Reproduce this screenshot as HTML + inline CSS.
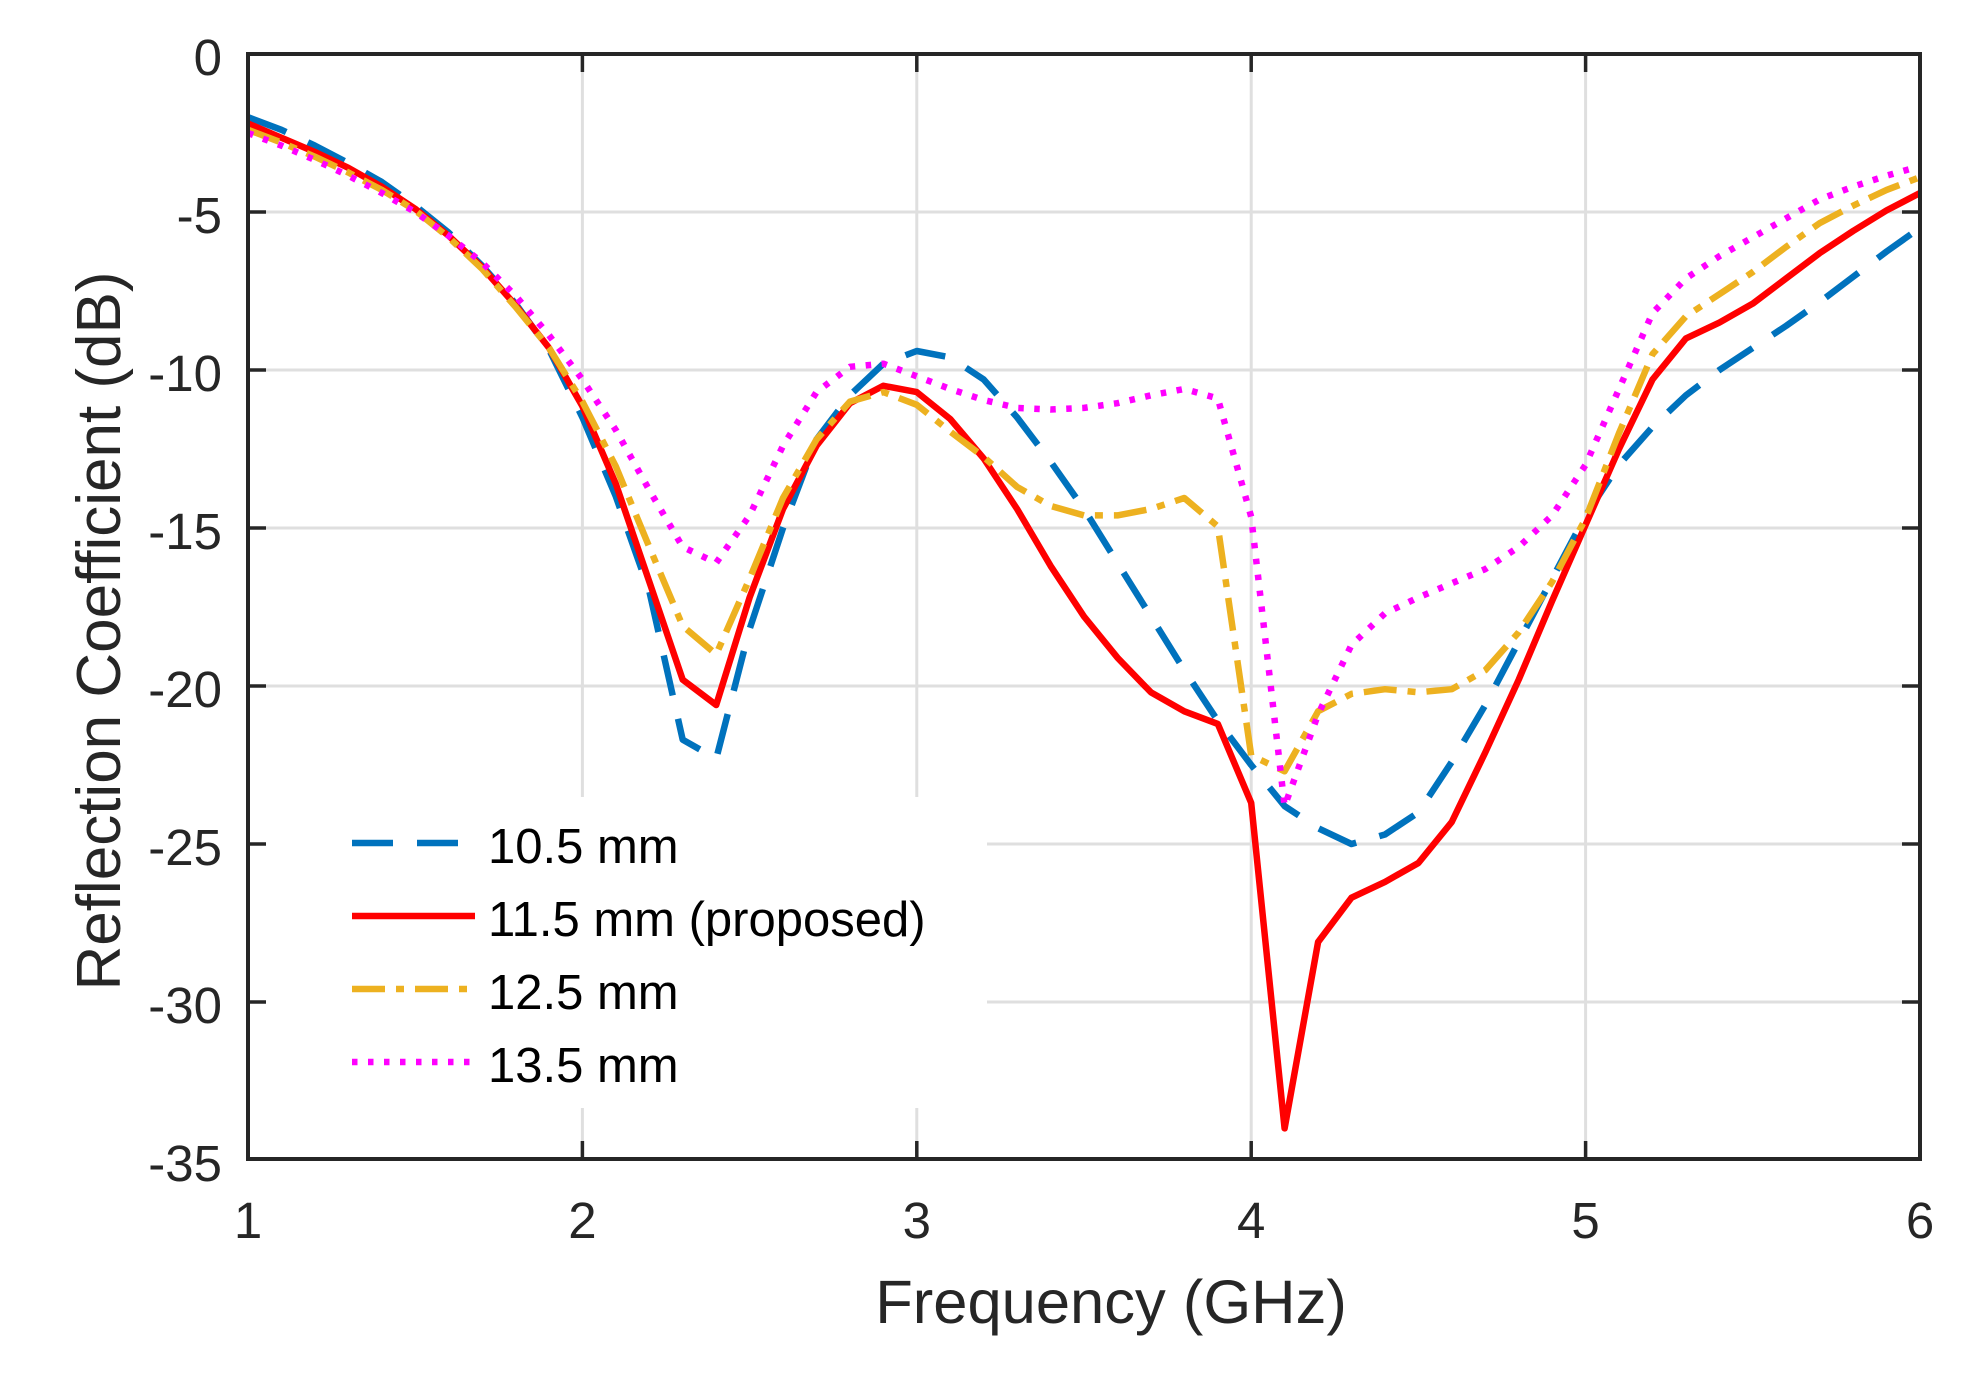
<!DOCTYPE html>
<html>
<head>
<meta charset="utf-8">
<style>
  html, body { margin: 0; padding: 0; background: #ffffff; }
  body { width: 1968px; height: 1374px; overflow: hidden; }
  svg { display: block; }
  text { font-family: "Liberation Sans", Arial, Helvetica, sans-serif; }
</style>
</head>
<body>
<svg id="chart" width="1968" height="1374" viewBox="0 0 1968 1374" xmlns="http://www.w3.org/2000/svg">
  <rect x="0" y="0" width="1968" height="1374" fill="#ffffff"/>

  <!-- grid -->
  <g stroke="#dfdfdf" stroke-width="3">
    <line x1="582.4" y1="54" x2="582.4" y2="1159"/>
    <line x1="916.8" y1="54" x2="916.8" y2="1159"/>
    <line x1="1251.2" y1="54" x2="1251.2" y2="1159"/>
    <line x1="1585.6" y1="54" x2="1585.6" y2="1159"/>
    <line x1="248" y1="212" x2="1920" y2="212"/>
    <line x1="248" y1="370" x2="1920" y2="370"/>
    <line x1="248" y1="528" x2="1920" y2="528"/>
    <line x1="248" y1="686" x2="1920" y2="686"/>
    <line x1="248" y1="844" x2="1920" y2="844"/>
    <line x1="248" y1="1002" x2="1920" y2="1002"/>
  </g>

  <!-- legend background (covers grid) -->
  <rect x="251" y="797" width="736" height="311" fill="#ffffff"/>

  <!-- series -->
  <g id="series" fill="none"></g>

  <!-- axes box -->
  <rect x="248" y="54" width="1672" height="1105" fill="none" stroke="#262626" stroke-width="4"/>

  <!-- ticks -->
  <g stroke="#262626" stroke-width="3.5">
    <line x1="582.4" y1="1159" x2="582.4" y2="1141"/>
    <line x1="916.8" y1="1159" x2="916.8" y2="1141"/>
    <line x1="1251.2" y1="1159" x2="1251.2" y2="1141"/>
    <line x1="1585.6" y1="1159" x2="1585.6" y2="1141"/>
    <line x1="582.4" y1="54" x2="582.4" y2="72"/>
    <line x1="916.8" y1="54" x2="916.8" y2="72"/>
    <line x1="1251.2" y1="54" x2="1251.2" y2="72"/>
    <line x1="1585.6" y1="54" x2="1585.6" y2="72"/>
    <line x1="248" y1="212" x2="266" y2="212"/>
    <line x1="248" y1="370" x2="266" y2="370"/>
    <line x1="248" y1="528" x2="266" y2="528"/>
    <line x1="248" y1="686" x2="266" y2="686"/>
    <line x1="248" y1="844" x2="266" y2="844"/>
    <line x1="248" y1="1002" x2="266" y2="1002"/>
    <line x1="1920" y1="212" x2="1902" y2="212"/>
    <line x1="1920" y1="370" x2="1902" y2="370"/>
    <line x1="1920" y1="528" x2="1902" y2="528"/>
    <line x1="1920" y1="686" x2="1902" y2="686"/>
    <line x1="1920" y1="844" x2="1902" y2="844"/>
    <line x1="1920" y1="1002" x2="1902" y2="1002"/>
  </g>

  <!-- y tick labels -->
  <g fill="#262626" font-size="51" text-anchor="end">
    <text x="222" y="75">0</text>
    <text x="222" y="233">-5</text>
    <text x="222" y="391">-10</text>
    <text x="222" y="549">-15</text>
    <text x="222" y="707">-20</text>
    <text x="222" y="865">-25</text>
    <text x="222" y="1023">-30</text>
    <text x="222" y="1181">-35</text>
  </g>

  <!-- x tick labels -->
  <g fill="#262626" font-size="51" text-anchor="middle">
    <text x="248" y="1238">1</text>
    <text x="582.4" y="1238">2</text>
    <text x="916.8" y="1238">3</text>
    <text x="1251.2" y="1238">4</text>
    <text x="1585.6" y="1238">5</text>
    <text x="1920" y="1238">6</text>
  </g>

  <!-- axis labels -->
  <text x="1111" y="1323" fill="#262626" font-size="61.5" text-anchor="middle">Frequency (GHz)</text>
  <text transform="translate(120,631) rotate(-90)" fill="#262626" font-size="62" text-anchor="middle">Reflection Coefficient (dB)</text>

  <!-- legend -->
  <g fill="none" stroke-width="6.5" stroke-linecap="butt">
    <line x1="352" y1="843" x2="458" y2="843" stroke="#0072BD" stroke-dasharray="41 24"/>
    <line x1="352" y1="916" x2="475" y2="916" stroke="#FF0000"/>
    <line x1="352" y1="989" x2="471" y2="989" stroke="#EDB120" stroke-dasharray="33 11 8 11"/>
    <line x1="352" y1="1062" x2="471" y2="1062" stroke="#FF00FF" stroke-dasharray="5.5 10.5"/>
  </g>
  <g fill="#000000" font-size="49">
    <text x="488" y="863">10.5 mm</text>
    <text x="488" y="936">11.5 mm (proposed)</text>
    <text x="488" y="1009">12.5 mm</text>
    <text x="488" y="1082">13.5 mm</text>
  </g>
</svg>

<script>
(function(){
  var X = function(f){ return 248 + (f-1)*334.4; };
  var Y = function(d){ return 54 + (-d)*31.6; };
  var blue = [-2.0,-2.4,-2.9,-3.45,-4.05,-4.8,-5.65,-6.7,-7.9,-9.35,
    -11.5,-14.0,-17.0,-21.7,-22.3,-18.2,-15.0,-12.2,-10.8,-9.8,
    -9.4,-9.6,-10.3,-11.5,-12.9,-14.4,-16.1,-17.8,-19.5,-21.1,
    -22.5,-23.8,-24.5,-25.0,-24.7,-24.0,-22.4,-20.6,-18.6,-16.6,
    -14.6,-13.0,-11.8,-10.8,-10.0,-9.3,-8.6,-7.85,-7.05,-6.25,-5.5];
  var red = [-2.2,-2.65,-3.1,-3.6,-4.2,-4.9,-5.75,-6.75,-7.95,-9.3,
    -11.15,-13.6,-16.7,-19.8,-20.6,-17.2,-14.4,-12.4,-11.05,-10.5,
    -10.7,-11.55,-12.8,-14.4,-16.2,-17.8,-19.1,-20.2,-20.8,-21.2,
    -23.7,-34.0,-28.1,-26.7,-26.2,-25.6,-24.3,-22.1,-19.8,-17.3,
    -14.9,-12.5,-10.3,-9.0,-8.5,-7.9,-7.1,-6.3,-5.6,-4.95,-4.4];
  var orange = [-2.4,-2.8,-3.25,-3.75,-4.3,-4.95,-5.8,-6.8,-8.0,-9.3,
    -11.0,-13.05,-15.6,-18.1,-19.0,-16.6,-14.05,-12.2,-11.0,-10.7,
    -11.1,-11.95,-12.75,-13.7,-14.3,-14.6,-14.6,-14.4,-14.05,-14.95,
    -22.2,-22.7,-20.8,-20.25,-20.1,-20.2,-20.1,-19.5,-18.3,-16.7,
    -14.7,-12.0,-9.5,-8.3,-7.6,-6.9,-6.1,-5.35,-4.8,-4.3,-3.9];
  var magenta = [-2.5,-2.9,-3.35,-3.85,-4.4,-5.0,-5.75,-6.6,-7.65,-8.9,
    -10.3,-11.9,-13.8,-15.6,-16.1,-14.6,-12.4,-10.7,-9.9,-9.8,
    -10.2,-10.6,-10.95,-11.2,-11.25,-11.2,-11.05,-10.8,-10.6,-10.9,
    -14.65,-23.8,-20.9,-18.7,-17.7,-17.2,-16.75,-16.3,-15.6,-14.6,
    -13.0,-10.6,-8.2,-7.1,-6.4,-5.8,-5.2,-4.6,-4.2,-3.85,-3.55];
  var series = [
    {d: blue, c: "#0072BD", dash: "41 24"},
    {d: red, c: "#FF0000", dash: null},
    {d: orange, c: "#EDB120", dash: "33 11 8 11"},
    {d: magenta, c: "#FF00FF", dash: "5.5 10.5"}
  ];
  var g = document.getElementById("series");
  var ns = "http://www.w3.org/2000/svg";
  series.forEach(function(s){
    var pts = [];
    for (var i = 0; i < s.d.length; i++) {
      var f = 1 + i*0.1;
      pts.push(X(f).toFixed(1) + "," + Y(s.d[i]).toFixed(1));
    }
    var p = document.createElementNS(ns, "polyline");
    p.setAttribute("points", pts.join(" "));
    p.setAttribute("stroke", s.c);
    p.setAttribute("fill", "none");
    p.setAttribute("stroke-width", "6.5");
    p.setAttribute("stroke-linejoin", "round");
    if (s.dash) { p.setAttribute("stroke-dasharray", s.dash); p.setAttribute("stroke-linecap", "butt"); }
    g.appendChild(p);
  });
})();
</script>
</body>
</html>
